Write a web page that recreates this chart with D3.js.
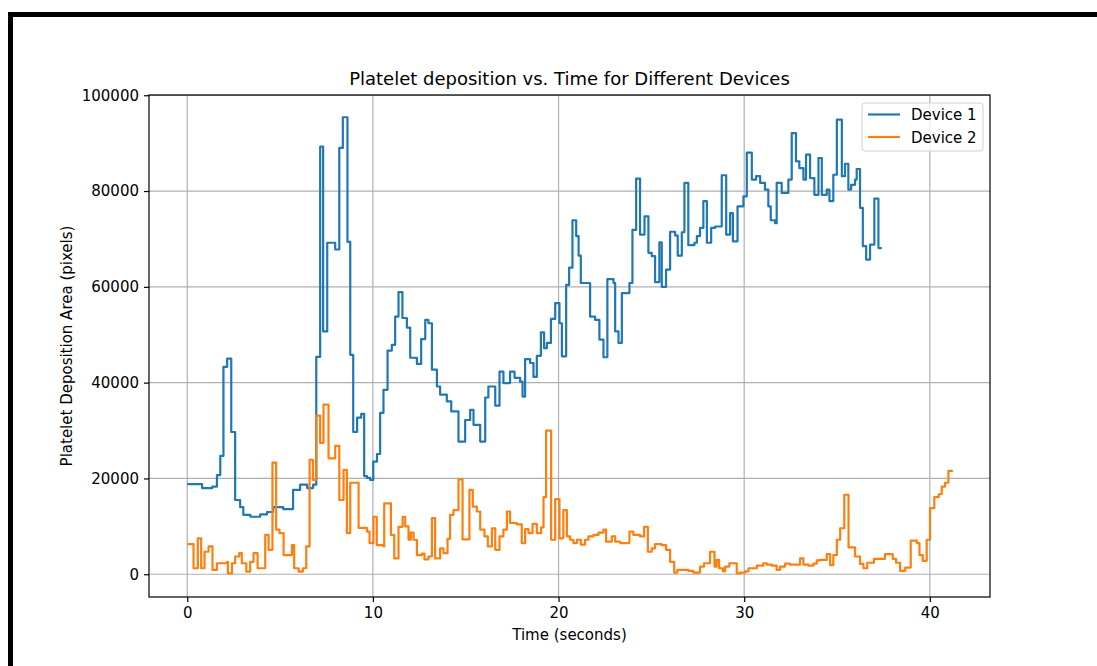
<!DOCTYPE html>
<html>
<head>
<meta charset="utf-8">
<script src="https://cdn.jsdelivr.net/npm/d3@7"></script>
<style>
  body { margin: 0; background: #fff; }
  svg { display: block; font-family: "DejaVu Sans", sans-serif; }
</style>
</head>
<body>
<div id="chart"></div>
<script>
// Device 1: [time (s), area (px)], drawn as steps
const device1 = [
  [0, 18800], [0.8, 18000], [1.35, 18300], [1.6, 20700], [1.78, 24700],
  [1.95, 43300], [2.15, 45000], [2.37, 29700], [2.58, 15500], [2.85, 14000],
  [3.02, 12400], [3.4, 12000], [3.93, 12500], [4.3, 13000], [4.63, 14000],
  [5.17, 13600], [5.7, 17600], [6.08, 18700], [6.46, 18000], [6.78, 18700],
  [6.95, 45400], [7.16, 89300], [7.32, 50700], [7.54, 69200], [7.97, 67800],
  [8.19, 89000], [8.38, 95400], [8.63, 69400], [8.78, 45800], [8.94, 29700],
  [9.15, 32700], [9.37, 33500], [9.53, 20500], [9.68, 20100], [9.85, 19700],
  [10.02, 23500], [10.22, 25100], [10.39, 33700], [10.57, 38500], [10.79, 46700],
  [11.02, 47900], [11.2, 53800], [11.38, 58900], [11.59, 53500], [11.83, 51500],
  [12.01, 45200], [12.37, 43900], [12.6, 49100], [12.82, 53100], [12.99, 52400],
  [13.18, 42700], [13.45, 39200], [13.62, 37500], [13.98, 36100], [14.22, 34000],
  [14.61, 27700], [14.97, 32200], [15.24, 34300], [15.42, 31200], [15.78, 27700],
  [16.05, 36900], [16.22, 39200], [16.59, 35200], [16.82, 42300], [17.03, 39900],
  [17.39, 42300], [17.63, 41000], [17.93, 40200], [18.06, 37100], [18.2, 44900],
  [18.47, 44100], [18.65, 41200], [18.83, 45600], [19.05, 50500], [19.22, 47200],
  [19.37, 48300], [19.59, 53300], [19.82, 56600], [20.05, 52400], [20.18, 45500],
  [20.41, 60400], [20.57, 64000], [20.75, 73900], [20.95, 70600], [21.08, 66500],
  [21.2, 60800], [21.7, 53800], [21.97, 53100], [22.2, 49000], [22.42, 45300],
  [22.63, 61600], [22.96, 60800], [23.05, 50700], [23.23, 48300], [23.41, 58700],
  [23.82, 60800], [23.98, 71900], [24.18, 82600], [24.39, 70900], [24.63, 74700],
  [24.84, 67100], [25.02, 66400], [25.2, 61000], [25.43, 69300], [25.56, 60000],
  [25.79, 63600], [26.01, 71500], [26.28, 70700], [26.42, 66500], [26.64, 71400],
  [26.78, 81700], [26.99, 68700], [27.32, 69200], [27.45, 70600], [27.62, 72300],
  [27.8, 77900], [27.99, 69200], [28.22, 72300], [28.43, 72600], [28.79, 83300],
  [29.03, 70900], [29.24, 75400], [29.39, 69500], [29.64, 76800], [29.96, 78900],
  [30.14, 88000], [30.41, 82400], [30.64, 83100], [30.86, 81700], [31.12, 80300],
  [31.3, 76800], [31.43, 73900], [31.66, 73300], [31.75, 81700], [32.02, 79600],
  [32.38, 82400], [32.56, 92100], [32.79, 86200], [32.97, 84800], [33.19, 82400],
  [33.33, 87600], [33.55, 82700], [33.78, 79200], [34.0, 86900], [34.18, 79200],
  [34.45, 80300], [34.59, 77900], [34.8, 83400], [34.99, 94900], [35.26, 83100],
  [35.43, 85700], [35.61, 80300], [35.76, 81300], [35.97, 82400], [36.06, 84600],
  [36.24, 76500], [36.39, 68500], [36.57, 65700], [36.78, 68800], [37.01, 78400],
  [37.23, 68100], [37.41, 68100]
];

// Device 2
const device2 = [
  [0, 6300], [0.34, 1250], [0.57, 7500], [0.75, 1250], [0.93, 4700],
  [1.15, 5800], [1.36, 900], [1.6, 2300], [2.14, 2600], [2.19, 200],
  [2.41, 2300], [2.58, 3700], [2.8, 4400], [2.94, 2300], [3.18, 550],
  [3.39, 2600], [3.57, 4400], [3.79, 1250], [4.2, 8200], [4.38, 5100],
  [4.59, 23300], [4.79, 9300], [4.97, 8600], [5.19, 4000], [5.64, 6100],
  [5.76, 1250], [6.0, 550], [6.23, 1250], [6.41, 5800], [6.59, 23900],
  [6.77, 19700], [6.95, 33100], [7.16, 27400], [7.34, 35400], [7.61, 24200],
  [7.97, 26800], [8.19, 15500], [8.42, 21800], [8.6, 8600], [8.78, 19100],
  [9.23, 9700], [9.68, 8900], [9.82, 6500], [10.03, 12000], [10.21, 6100],
  [10.57, 5800], [10.61, 14800], [10.79, 14800], [10.97, 8200], [11.15, 3300],
  [11.38, 9900], [11.6, 12000], [11.74, 10000], [11.92, 7200], [12.04, 8700],
  [12.19, 7200], [12.37, 4000], [12.64, 4300], [12.78, 3100], [12.99, 3700],
  [13.18, 11700], [13.35, 3300], [13.62, 5400], [13.8, 4400], [14.02, 7400],
  [14.16, 12400], [14.34, 13400], [14.61, 19800], [14.83, 7300], [15.2, 17600],
  [15.38, 14100], [15.6, 13100], [15.78, 9300], [16.01, 7900], [16.19, 5800],
  [16.41, 9600], [16.59, 5100], [16.82, 7900], [17.03, 9300], [17.22, 13100],
  [17.39, 10700], [17.75, 10400], [18.02, 6500], [18.2, 9400], [18.38, 8600],
  [18.6, 10500], [18.83, 8600], [19.06, 9800], [19.19, 16100], [19.33, 30000],
  [19.6, 7200], [19.82, 15700], [20.05, 7500], [20.26, 13400], [20.45, 7900],
  [20.62, 7200], [20.8, 6500], [20.99, 7200], [21.2, 6200], [21.43, 7200],
  [21.61, 7900], [21.88, 8200], [22.15, 8700], [22.42, 9300], [22.56, 6800],
  [22.87, 7900], [23.05, 6800], [23.32, 6500], [23.82, 8900], [24.03, 8200],
  [24.39, 7900], [24.61, 9900], [24.81, 4700], [25.02, 5400], [25.2, 6300],
  [25.56, 6100], [25.79, 5100], [26.01, 2600], [26.23, 350], [26.4, 900],
  [27.0, 700], [27.26, 350], [27.62, 1600], [27.84, 2300], [28.16, 4700],
  [28.4, 1600], [28.52, 3000], [28.65, 1250], [28.85, 600], [28.97, 1600],
  [29.2, 2300], [29.6, 200], [29.78, 350], [30.05, 600], [30.23, 1250],
  [30.5, 1250], [30.68, 1800], [31.03, 2300], [31.22, 2000], [31.49, 1800],
  [31.75, 900], [31.93, 1600], [32.2, 2200], [32.47, 2000], [33.01, 3300],
  [33.19, 2000], [33.46, 1800], [33.73, 2200], [33.91, 2900], [34.09, 3000],
  [34.45, 4200], [34.63, 1900], [34.8, 4000], [34.99, 7200], [35.17, 9600],
  [35.39, 16600], [35.62, 5600], [35.97, 3700], [36.24, 2150], [36.42, 1250],
  [36.63, 2400], [36.99, 3200], [37.58, 4200], [38.0, 3200], [38.18, 2400],
  [38.4, 700], [38.67, 1400], [38.97, 7000], [39.3, 6500], [39.44, 4000],
  [39.62, 2800], [39.83, 7200], [40.01, 13800], [40.24, 16100], [40.48, 16700],
  [40.64, 18300], [40.82, 19100], [41.0, 21600], [41.24, 21600]
];

const seriesNames = ["Device 1", "Device 2"];
const seriesColors = ["#1f77b4", "#ff7f0e"];
const xTicks = [0, 10, 20, 30, 40];
const yTicks = [0, 20000, 40000, 60000, 80000, 100000];

const config = {
  width: 1097,
  height: 666,
  margin: { top: 95, right: 107, bottom: 69, left: 149 },
};

const svg = d3
  .select("#chart")
  .append("svg")
  .attr("width", config.width)
  .attr("height", config.height);

// black frame along top and left edges
svg.append("rect").attr("x", 8).attr("y", 12).attr("width", config.width - 8).attr("height", 5).attr("fill", "#000");
svg.append("rect").attr("x", 8).attr("y", 12).attr("width", 5).attr("height", config.height - 12).attr("fill", "#000");

const innerW = config.width - config.margin.left - config.margin.right;
const innerH = config.height - config.margin.top - config.margin.bottom;

const g = svg
  .append("g")
  .attr("transform", `translate(${config.margin.left},${config.margin.top})`);

const xScale = d3.scaleLinear().domain([-2.06, 43.24]).range([0, innerW]);
const yScale = d3.scaleLinear().domain([-4750, 100050]).range([innerH, 0]);

// grid
g.append("g")
  .selectAll("line")
  .data(xTicks)
  .join("line")
  .attr("x1", (d) => xScale(d))
  .attr("x2", (d) => xScale(d))
  .attr("y1", 0)
  .attr("y2", innerH)
  .attr("stroke", "#b0b0b0")
  .attr("stroke-width", 1.2);

g.append("g")
  .selectAll("line")
  .data(yTicks)
  .join("line")
  .attr("x1", 0)
  .attr("x2", innerW)
  .attr("y1", (d) => yScale(d))
  .attr("y2", (d) => yScale(d))
  .attr("stroke", "#b0b0b0")
  .attr("stroke-width", 1.2);

// lines
const line = d3
  .line()
  .x((d) => xScale(d[0]))
  .y((d) => yScale(d[1]))
  .curve(d3.curveStepAfter);

[device1, device2].forEach((data, i) => {
  g.append("path")
    .datum(data)
    .attr("fill", "none")
    .attr("stroke", seriesColors[i])
    .attr("stroke-width", 2.2)
    .attr("stroke-linejoin", "round")
    .attr("d", line);
});

// axes
const xAxis = d3.axisBottom(xScale).tickValues(xTicks).tickSize(5).tickPadding(5);
const yAxis = d3
  .axisLeft(yScale)
  .tickValues(yTicks)
  .tickSize(5)
  .tickPadding(5)
  .tickFormat(d3.format("d"));

const xAxisGroup = g.append("g").attr("transform", `translate(0,${innerH})`).call(xAxis);
const yAxisGroup = g.append("g").call(yAxis);

[xAxisGroup, yAxisGroup].forEach((ax) => {
  ax.select(".domain").remove();
  ax.selectAll(".tick line").attr("stroke", "#000").attr("stroke-width", 1.2);
  ax.selectAll(".tick text")
    .attr("fill", "#000")
    .style("font-family", "DejaVu Sans")
    .style("font-size", "15px");
});

// spines
g.append("rect")
  .attr("width", innerW)
  .attr("height", innerH)
  .attr("fill", "none")
  .attr("stroke", "#000")
  .attr("stroke-width", 1.2);

// title and labels
svg.append("text")
  .attr("x", config.margin.left + innerW / 2)
  .attr("y", 85)
  .attr("text-anchor", "middle")
  .style("font-size", "18px")
  .text("Platelet deposition vs. Time for Different Devices");

svg.append("text")
  .attr("x", config.margin.left + innerW / 2)
  .attr("y", 640)
  .attr("text-anchor", "middle")
  .style("font-size", "15px")
  .text("Time (seconds)");

svg.append("text")
  .attr("transform", `translate(72,${config.margin.top + innerH / 2}) rotate(-90)`)
  .attr("text-anchor", "middle")
  .style("font-size", "15px")
  .text("Platelet Deposition Area (pixels)");

// legend
const legend = svg.append("g").attr("transform", "translate(862,103)");
legend.append("rect")
  .attr("width", 121)
  .attr("height", 48)
  .attr("rx", 3)
  .attr("fill", "#fff")
  .attr("fill-opacity", 0.8)
  .attr("stroke", "#d0d0d0")
  .attr("stroke-width", 1);

seriesNames.forEach((name, i) => {
  const yy = 11.5 + i * 22.5;
  legend.append("line")
    .attr("x1", 6)
    .attr("x2", 38)
    .attr("y1", yy)
    .attr("y2", yy)
    .attr("stroke", seriesColors[i])
    .attr("stroke-width", 2.2);
  legend.append("text")
    .attr("x", 49)
    .attr("y", yy + 5.5)
    .style("font-size", "15px")
    .text(name);
});
</script>
</body>
</html>
